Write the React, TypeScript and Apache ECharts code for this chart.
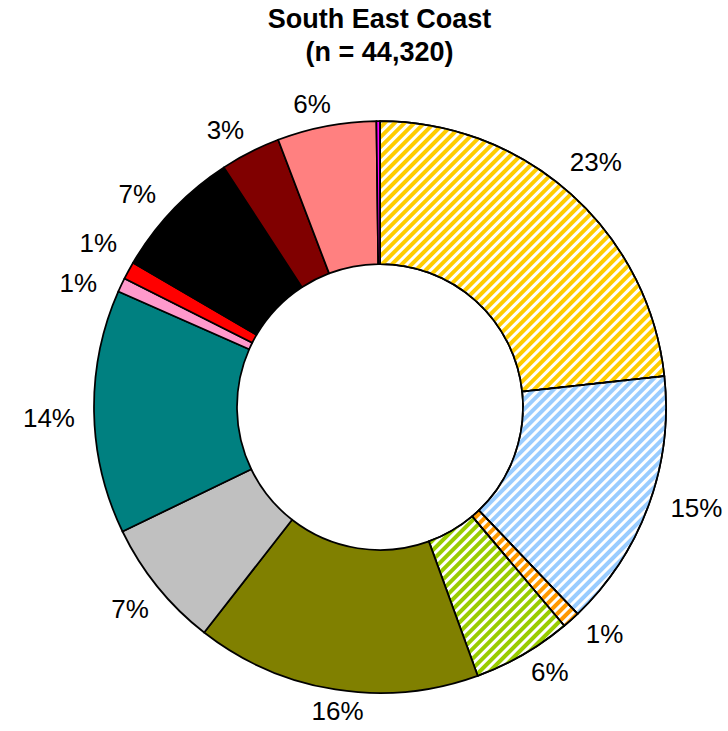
import React, { useEffect, useRef } from "react";
import * as echarts from "echarts";

// ---- data ----
const categories = [
  "Segment 1", "Segment 2", "Segment 3", "Segment 4", "Segment 5", "Segment 6", "Segment 7",
  "Segment 8", "Segment 9", "Segment 10", "Segment 11", "Segment 12", "Segment 13",
];
const shares = [23.3, 14.6, 1.0, 5.6, 16.1, 7.3, 13.8, 0.8, 1.0, 7.4, 3.4, 5.6, 0.2];
const colors = [
  "#FFCC00", "#99CCFF", "#FF9900", "#99CC00", "#808000", "#C0C0C0", "#008080",
  "#FF99CC", "#FF0000", "#000000", "#800000", "#FF8080", "#FF00FF",
];
const hatched = [true, true, true, true, false, false, false, false, false, false, false, false, false];
const titleLines = ["South East Coast", "(n = 44,320)"];

// ---- layout / style ----
const CX = 380;
const CY = 407;
const R_OUT = 286;
const R_IN = 143;
const LABEL_RX = 293; // label anchor ellipse (the original plot is slightly oval)
const LABEL_RY = 280;
const LABEL_DY = -2;
const GAP = 12;
const TAN_SHIFT = -8;
const PAIR_SHIFT = 13;
const FONT = "'Liberation Sans', Arial, sans-serif";

const isSmallLabelled = (i: number) => {
  const n = shares.length;
  const v = shares[((i % n) + n) % n];
  return v < 2 && v >= 0.5;
};

export default function App() {
  const ref = useRef<HTMLDivElement>(null);
  useEffect(() => {
    if (!ref.current) return;
    const chart = echarts.init(ref.current, undefined, { renderer: "svg" });
    const data = shares.map((v, i) => ({
      name: categories[i],
      value: v,
      itemStyle: hatched[i]
        ? {
            color: "#FFFFFF",
            decal: {
              symbol: "rect",
              symbolSize: 1,
              color: colors[i],
              dashArrayX: [1, 0],
              dashArrayY: [3.5, 3],
              rotation: -Math.PI / 4,
            },
          }
        : { color: colors[i] },
    }));
    chart.setOption({
      animation: false,
      backgroundColor: "#FFFFFF",
      graphic: [
        {
          type: "text",
          x: 379.5,
          y: 19,
          style: {
            text: titleLines[0],
            fontSize: 27,
            fontWeight: "bold",
            fontFamily: FONT,
            fill: "#000",
            align: "center",
            verticalAlign: "middle",
          },
        },
        {
          type: "text",
          x: 379.5,
          y: 51.5,
          style: {
            text: titleLines[1],
            fontSize: 27,
            fontWeight: "bold",
            fontFamily: FONT,
            fill: "#000",
            align: "center",
            verticalAlign: "middle",
          },
        },
      ],
      series: [
        {
          type: "pie",
          center: [CX, CY],
          radius: [R_IN, R_OUT],
          startAngle: 90,
          clockwise: true,
          avoidLabelOverlap: false,
          itemStyle: { borderColor: "#000", borderWidth: 1.75 },
          label: {
            show: true,
            position: "outside",
            fontSize: 26,
            fontFamily: FONT,
            color: "#000",
            formatter: (p: any) => {
              const r = Math.round(p.percent);
              return r > 0 ? r + "%" : "";
            },
          },
          labelLine: {
            show: true,
            length: 0,
            length2: 0,
            lineStyle: { color: "rgba(0,0,0,0)", width: 0 },
          },
          labelLayout: (p: any) => {
            const pts = p.labelLinePoints;
            if (!pts || !pts[0]) return {};
            let ux = pts[0][0] - CX;
            let uy = pts[0][1] - CY;
            const len = Math.hypot(ux, uy) || 1;
            ux /= len;
            uy /= len;
            const ex = CX + ux * LABEL_RX;
            const ey = CY + uy * LABEL_RY + LABEL_DY;
            const tx = -uy; // clockwise tangent
            const ty = ux;
            const w = p.labelRect.width;
            const h = p.labelRect.height;
            const off = GAP + (w / 2) * Math.abs(ux) + (h / 2) * Math.abs(uy);
            const i = p.dataIndex;
            let t = TAN_SHIFT;
            if (isSmallLabelled(i)) {
              if (isSmallLabelled(i + 1)) t = -PAIR_SHIFT;
              else if (isSmallLabelled(i - 1)) t = PAIR_SHIFT;
            }
            return {
              x: ex + ux * off + tx * t,
              y: ey + uy * off + ty * t,
              align: "center",
              verticalAlign: "middle",
            };
          },
          emphasis: { disabled: true },
          data,
        },
      ],
    });
    return () => chart.dispose();
  }, []);
  return (
    <div
      ref={ref}
      style={{ position: "absolute", left: 0, top: 0, width: 728, height: 731 }}
    />
  );
}
